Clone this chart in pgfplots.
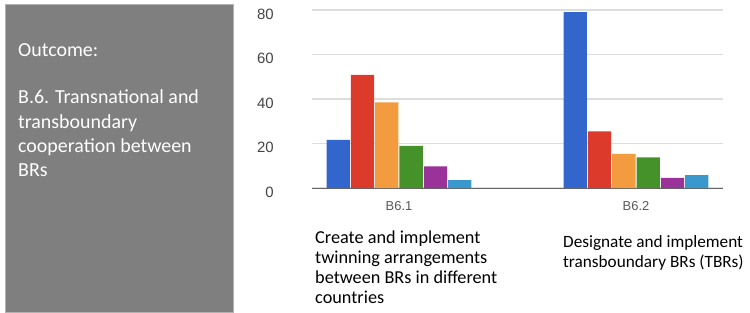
\documentclass[border=0pt]{standalone}
\usepackage{pgfplots}
\pgfplotsset{compat=1.18}
\usepackage{fontspec}
\setmainfont{Carlito}
\newfontfamily\arial{Liberation Sans}
\definecolor{cBlue}{HTML}{3366CC}
\definecolor{cRed}{HTML}{DC3A2A}
\definecolor{cOrange}{HTML}{F39B3F}
\definecolor{cGreen}{HTML}{46922A}
\definecolor{cPurple}{HTML}{993399}
\definecolor{cCyan}{HTML}{3A99CC}
\definecolor{boxgray}{HTML}{7F7F7F}
\definecolor{gridgray}{HTML}{DDDDDD}
\definecolor{ticktext}{HTML}{444444}
\begin{document}
\begin{tikzpicture}[x=1bp,y=1bp]
\path[use as bounding box] (0,0) rectangle (750,312);
% left box
\draw[fill=boxgray, draw=black!30] (5,0) rectangle (233,308);
\begin{scope}[every node/.style={anchor=base west, inner sep=0pt, text=white, font=\fontsize{20}{24}\selectfont}]
\node at (18,312-56) {Outcome:};
\node at (18,312-103) {B.6. Transnational and};
\node at (18,312-128) {transboundary};
\node at (18,312-152) {cooperation between};
\node at (18,312-176) {BRs};
\end{scope}
\begin{axis}[
  at={(312bp,124bp)}, anchor=south west,
  scale only axis, width=411bp, height=178bp,
  xmin=-0.367, xmax=1.367, ymin=0, ymax=80,
  ybar=1bp, bar width=23.3bp,
  xtick={0,1}, xticklabels={B6.1,B6.2},
  ytick={0,20,40,60,80},
  ymajorgrids, grid style={gridgray, line width=1.3bp},
  axis line style={draw=none},
  major tick length=0pt,
  /pgf/number format/assume math mode=true,
  yticklabel style={font=\arial\fontsize{15}{15}\selectfont, text=ticktext, anchor=east, inner sep=0pt, xshift=-38bp, yshift=-4bp},
  xticklabel style={font=\arial\fontsize{13}{13}\selectfont, text=black!65, anchor=center, inner sep=0pt, yshift=-18.5bp},
  extra y ticks={0}, extra y tick labels={},
  extra y tick style={grid style={black!60, line width=1bp}},
  every axis plot/.append style={draw=none},
]
\addplot[fill=cBlue] coordinates {(0,21.6) (1,79)};
\addplot[fill=cRed] coordinates {(0,50.8) (1,25.5)};
\addplot[fill=cOrange] coordinates {(0,38.5) (1,15.3)};
\addplot[fill=cGreen] coordinates {(0,18.9) (1,13.8)};
\addplot[fill=cPurple] coordinates {(0,9.7) (1,4.6)};
\addplot[fill=cCyan] coordinates {(0,3.5) (1,5.8)};
\end{axis}
\begin{scope}[every node/.style={anchor=base west, inner sep=0pt, text=black, font=\fontsize{18.3}{20}\selectfont}]
\node at (315,312-243) {Create and implement};
\node at (315,312-263) {twinning arrangements};
\node at (315,312-283) {between BRs in different};
\node at (315,312-303) {countries};
\end{scope}
\begin{scope}[every node/.style={anchor=base west, inner sep=0pt, text=black, font=\fontsize{17.3}{20}\selectfont}]
\node at (563,312-247) {Designate and implement};
\node at (563,312-267) {transboundary BRs (TBRs)};
\end{scope}
\end{tikzpicture}
\end{document}
